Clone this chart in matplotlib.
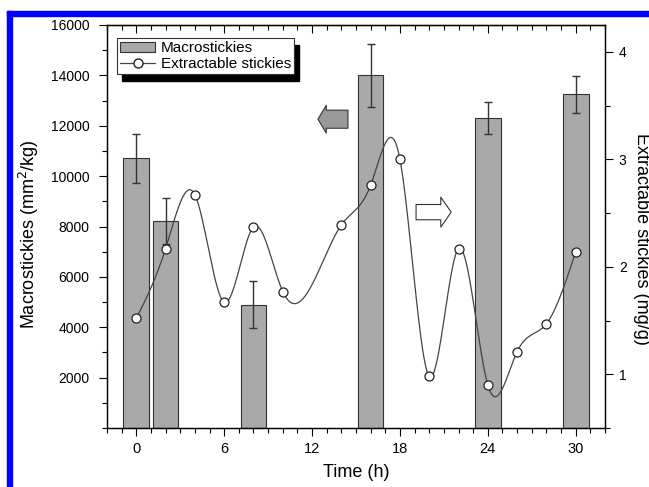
import numpy as np
import matplotlib
matplotlib.use('Agg')
import matplotlib.pyplot as plt
from matplotlib.patches import Rectangle
from matplotlib.lines import Line2D
from matplotlib.ticker import MultipleLocator

plt.rcParams['font.family'] = ['Liberation Sans', 'DejaVu Sans']

# 大胶黏物 (柱) 与可萃取胶黏物 (曲线)
bar_time = [0, 2, 8, 16, 24, 30]
macro = [10700, 8220, 4900, 14000, 12300, 13250]
macro_err = [960, 920, 940, 1250, 640, 740]

ext_time = [0, 2, 4, 6, 8, 10, 14, 16, 18, 20, 22, 24, 26, 28, 30]
extract = [1.52, 2.17, 2.67, 1.67, 2.37, 1.77, 2.39, 2.76, 3.0, 0.98,
           2.17, 0.90, 1.21, 1.47, 2.14]


def natural_spline(x, y, xs):
    # 自然三次样条，只用来画平滑曲线
    x = np.asarray(x, float)
    y = np.asarray(y, float)
    n = len(x)
    h = np.diff(x)
    A = np.zeros((n, n))
    b = np.zeros(n)
    A[0, 0] = A[-1, -1] = 1
    for i in range(1, n - 1):
        A[i, i - 1] = h[i - 1]
        A[i, i] = 2 * (h[i - 1] + h[i])
        A[i, i + 1] = h[i]
        b[i] = 3 * ((y[i + 1] - y[i]) / h[i] - (y[i] - y[i - 1]) / h[i - 1])
    c = np.linalg.solve(A, b)
    bb = (y[1:] - y[:-1]) / h - h * (2 * c[:-1] + c[1:]) / 3
    d = (c[1:] - c[:-1]) / (3 * h)
    idx = np.clip(np.searchsorted(x, xs) - 1, 0, n - 2)
    t = xs - x[idx]
    return y[idx] + bb[idx] * t + c[idx] * t ** 2 + d[idx] * t ** 3


fig = plt.figure(figsize=(6.49, 4.87), dpi=100)
ax = fig.add_axes([0.1649, 0.1211, 0.9322 - 0.1649, 0.9487 - 0.1211])
ax2 = ax.twinx()

bars = ax.bar(bar_time, macro, width=1.75, color='#a9a9a9', edgecolor='#333333',
              linewidth=0.8, zorder=2, label='Macrostickies')
ax.errorbar(bar_time, macro, yerr=macro_err, fmt='none', ecolor='#333333',
            elinewidth=1, capsize=3, capthick=1, zorder=3)

ax.set_xlim(-2, 32)
ax.set_ylim(0, 16000)
ax.set_xticks([0, 6, 12, 18, 24, 30])
ax.xaxis.set_minor_locator(MultipleLocator(1))
ax.set_yticks(np.arange(2000, 16001, 2000))
ax.yaxis.set_minor_locator(MultipleLocator(1000))
ax.tick_params(axis='both', which='major', length=5.5, width=0.8, labelsize=10)
ax.tick_params(axis='both', which='minor', length=3.3, width=0.8)
ax.tick_params(axis='y', which='major', pad=7)
ax.tick_params(axis='x', which='major', pad=4.5, labelsize=10.5)
ax.set_xlabel('Time (h)', fontsize=13, labelpad=6)
ax.set_ylabel('Macrostickies (mm$^2$/kg)', fontsize=13, labelpad=7)
ax.yaxis.label.set_y(0.48)

# 顶部刻度朝内
sec = ax.secondary_xaxis('top')
sec.set_xticks([0, 6, 12, 18, 24, 30])
sec.xaxis.set_minor_locator(MultipleLocator(1))
sec.tick_params(which='major', direction='in', length=5.5, width=0.8, labeltop=False)
sec.tick_params(which='minor', direction='in', length=3.3, width=0.8)

xs = np.linspace(0, 30, 600)
ax2.plot(xs, natural_spline(ext_time, extract, xs), color='#444444', lw=0.9, zorder=3)
ax2.plot(ext_time, extract, 'o', ms=6.5, mfc='white', mec='#222222', mew=0.9, zorder=4)
ax2.set_ylim(0.5, 4.25)
ax2.set_yticks([1, 2, 3, 4])
ax2.yaxis.set_minor_locator(MultipleLocator(0.5))
ax2.tick_params(which='major', length=5.5, width=0.8, labelsize=10, pad=4.5)
ax2.tick_params(which='minor', length=3.3, width=0.8)
ax2.set_ylabel('Extractable stickies (mg/g)', fontsize=13, rotation=270, labelpad=17)
ax2.yaxis.label.set_y(0.47)

for a in (ax, ax2):
    for s in a.spines.values():
        s.set_linewidth(0.9)

# 箭头
ax.annotate('', xy=(12.4, 12260), xytext=(14.45, 12260),
            arrowprops=dict(arrowstyle='simple,head_width=2.0,head_length=0.6,tail_width=1.3',
                            fc='#999999', ec='#333333', lw=0.8, shrinkA=0, shrinkB=0))
ax.annotate('', xy=(21.5, 8570), xytext=(19.1, 8570),
            arrowprops=dict(arrowstyle='simple,head_width=2.15,head_length=0.75,tail_width=1.1',
                            fc='white', ec='#333333', lw=0.8, shrinkA=0, shrinkB=0))

# 图例
h2 = Line2D([], [], color='#444444', lw=0.9, marker='o', ms=6.5, mfc='white', mec='#222222')
leg = ax2.legend([bars, h2], ['Macrostickies', 'Extractable stickies'],
                 loc='upper left', bbox_to_anchor=(0.02, 0.967), fontsize=11,
                 frameon=True, fancybox=False, edgecolor='#333333', framealpha=1,
                 borderpad=0.2, handlelength=2.3, handletextpad=0.35,
                 labelspacing=0.12, borderaxespad=0)
leg.get_frame().set_linewidth(0.8)
leg.set_zorder(6)

# 图例的黑色阴影 (右下偏移)
fig.canvas.draw()
bb = leg.get_window_extent()
inv = ax2.transAxes.inverted()
(x0, y0), (x1, y1) = inv.transform([(bb.x0 + 5, bb.y0 - 7), (bb.x1 + 5, bb.y1 - 7)])
ax2.add_patch(Rectangle((x0, y0), x1 - x0, y1 - y0, transform=ax2.transAxes,
                        color='black', zorder=5.5, clip_on=False))

# 截图边框
fig.patches.append(Rectangle((7 / 649, (487 - 16) / 487), 642 / 649, 5 / 487,
                             transform=fig.transFigure, color='#0000ff', zorder=10))
fig.patches.append(Rectangle((7 / 649, 0), 5 / 649, (487 - 11) / 487,
                             transform=fig.transFigure, color='#0000ff', zorder=10))

fig.savefig('out.png', dpi=100)
